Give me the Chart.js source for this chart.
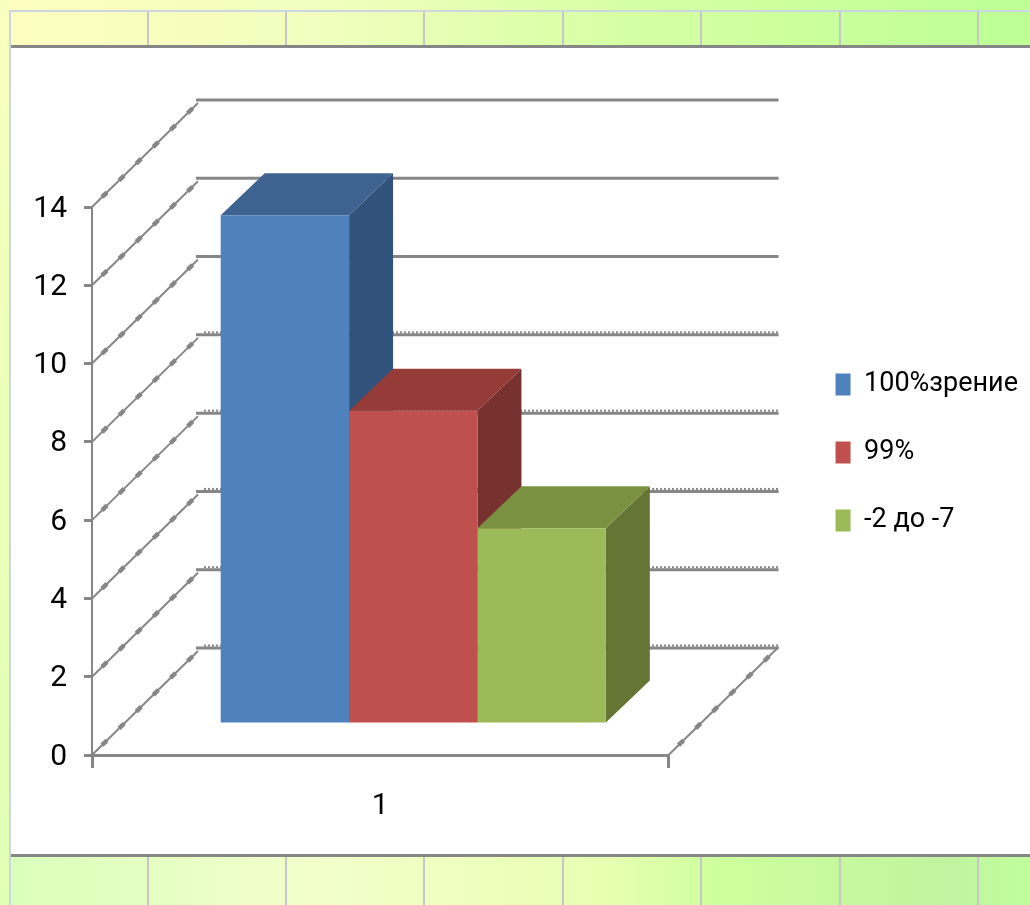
<!DOCTYPE html>
<html>
<head>
<meta charset="utf-8">
<script src="https://cdn.jsdelivr.net/npm/chart.js@4"></script>
<style>
html,body{margin:0;padding:0;width:1030px;height:905px;overflow:hidden}
body{position:relative;background:linear-gradient(180deg,#f9ffc0 0,#eaffb6 50%,#dfffb4 100%)}
.strip{position:absolute;left:10px;right:0}
#top{top:0;height:46px;background:linear-gradient(90deg,#fdfdbe 0,#f1ffbe 30%,#d6ffa4 60%,#bdff96 100%)}
#topfill{position:absolute;left:0;top:0;width:1030px;height:10px;background:linear-gradient(90deg,#f8ffc0 0,#e8ffae 45%,#d0ffa0 70%,#bcff94 100%)}
#bottom{top:857px;height:48px;background:linear-gradient(90deg,#d9ffbb 0,#f3ffcb 30%,#e8ffb2 58%,#ccff9c 70%,#c1f3a0 92%,#c0ff9c 100%)}
#panel{position:absolute;left:10px;right:0;top:45px;height:812px;background:#fff;border-top:3px solid #868686;border-bottom:3px solid #868686;box-sizing:border-box}
#edgeT{position:absolute;left:10px;right:0;top:10px;height:2px;background:#ccd5e2}
#edgeL{position:absolute;left:9px;width:2px;top:10px;bottom:0;background:#ccd5e2}
.cell{position:absolute;width:2px;background:#c6c6c6}
canvas{position:absolute;left:0;top:0}
</style>
</head>
<body>
<div id="topfill"></div>
<div class="strip" id="top"></div>
<div class="strip" id="bottom"></div>
<div id="panel"></div>
<div id="edgeT"></div>
<div id="edgeL"></div>
<div style="position:absolute;left:0;top:0;width:1030px;height:905px"><canvas id="c" width="1030" height="905"></canvas></div>
<script>
const categories=['1'];
const seriesNames=['100%зрение','99%','-2 до -7'];
const vision100=[13];
const vision99=[8];
const minus2to7=[5];
const frontColors=['#4f81bd','#c0504d','#9bbb59'];
const topColors=['#3f6390','#953b38','#7a9142'];
const sideColors=['#31527b','#773230','#647534'];
const gray='#868686';
const fontName='Roboto,"Noto Sans",sans-serif';

// fake 3D: the bars sit in the middle of the floor, the back wall is further off
const barShift={x:33,y:-31};
const barDepth={x:44,y:-42};
const wallShift={x:112,y:-108};

function slant(ctx,x1,y1,x2,y2){
ctx.save();
ctx.strokeStyle=gray;
ctx.lineWidth=2;
ctx.beginPath();ctx.moveTo(x1,y1);ctx.lineTo(x2,y2);ctx.stroke();
ctx.lineWidth=4.5;
ctx.setLineDash([7,17]);
ctx.lineDashOffset=-14;
ctx.beginPath();ctx.moveTo(x1,y1);ctx.lineTo(x2,y2);ctx.stroke();
ctx.restore();
}

const box3d={
id:'box3d',
beforeDatasetsDraw(chart){
const ctx=chart.ctx,yS=chart.scales.y,area=chart.chartArea;
ctx.save();
yS.ticks.forEach(t=>{
const y=yS.getPixelForValue(t.value);
slant(ctx,area.left,y,area.left+wallShift.x-6,y+wallShift.y+4);
ctx.strokeStyle=gray;
ctx.lineWidth=3;
ctx.setLineDash([]);
ctx.beginPath();ctx.moveTo(area.left+wallShift.x-8,y+wallShift.y+1);ctx.lineTo(area.right+wallShift.x-2,y+wallShift.y+1);ctx.stroke();
if(t.value<=8){
ctx.lineWidth=2;
ctx.setLineDash([2,2]);
ctx.beginPath();ctx.moveTo(area.left+wallShift.x,y+wallShift.y-1.5);ctx.lineTo(area.right+wallShift.x-2,y+wallShift.y-1.5);ctx.stroke();
ctx.setLineDash([]);
}
});
slant(ctx,area.right,area.bottom,area.right+wallShift.x-2,area.bottom+wallShift.y);
// top and side faces go first, the library then draws the front faces over them
chart.data.datasets.forEach((d,i)=>{
const b=chart.getDatasetMeta(i).data[0];
const l=b.x-b.width/2+barShift.x,r=b.x+b.width/2+barShift.x;
const t=b.y+barShift.y,bot=b.base+barShift.y;
ctx.fillStyle=sideColors[i];
ctx.beginPath();ctx.moveTo(r,t);ctx.lineTo(r+barDepth.x,t+barDepth.y);ctx.lineTo(r+barDepth.x,bot+barDepth.y);ctx.lineTo(r,bot);ctx.closePath();ctx.fill();
ctx.fillStyle=topColors[i];
ctx.beginPath();ctx.moveTo(l,t);ctx.lineTo(l+barDepth.x,t+barDepth.y);ctx.lineTo(r+barDepth.x,t+barDepth.y);ctx.lineTo(r,t);ctx.closePath();ctx.fill();
});
ctx.restore();
ctx.save();
ctx.translate(barShift.x,barShift.y);
},
afterDatasetsDraw(chart){
chart.ctx.restore();
}
};

new Chart(document.getElementById('c'),{
type:'bar',
data:{labels:categories,datasets:[
{label:seriesNames[0],data:vision100,backgroundColor:frontColors[0]},
{label:seriesNames[1],data:vision99,backgroundColor:frontColors[1]},
{label:seriesNames[2],data:minus2to7,backgroundColor:frontColors[2]}
]},
plugins:[box3d],
options:{
responsive:false,animation:false,
layout:{padding:{top:0,right:2,bottom:0,left:0}},
datasets:{bar:{barPercentage:1,categoryPercentage:0.668,clip:false}},
plugins:{
tooltip:{enabled:false},
legend:{position:'right',maxWidth:300,labels:{boxWidth:15,boxHeight:22,padding:41,color:'#000',font:{size:27,family:fontName}}}
},
scales:{
x:{position:'bottom',afterFit:s=>{s.height=150;},
grid:{drawOnChartArea:false,tickLength:13,color:gray,lineWidth:3},
border:{color:gray,width:3,dash:[3,2]},
ticks:{color:'#000',padding:20,font:{size:30,family:fontName}}},
xTop:{type:'linear',position:'top',display:true,afterFit:s=>{s.height=207;},grid:{display:false},border:{display:false},ticks:{display:false}},
y:{min:0,max:14,position:'left',afterFit:s=>{s.width=92;},
grid:{drawOnChartArea:false,tickLength:8,color:gray,lineWidth:3},
border:{color:gray,width:2,dash:[3,5]},
ticks:{stepSize:2,color:'#000',padding:17,labelOffset:2,font:{size:30,family:fontName}}},
yRight:{type:'linear',position:'right',display:true,afterFit:s=>{s.width=126;},grid:{display:false},border:{display:false},ticks:{display:false}}
}
}
});

// cell dividers of the background strips
[148,286,424,563,701,840,978].forEach(x=>{
[[11,34],[857,48]].forEach(([top,h])=>{
const d=document.createElement('div');
d.className='cell';
d.style.left=x-1+'px';d.style.top=top+'px';d.style.height=h+'px';
document.body.insertBefore(d,document.getElementById('panel'));
});
});
</script>
</body>
</html>
